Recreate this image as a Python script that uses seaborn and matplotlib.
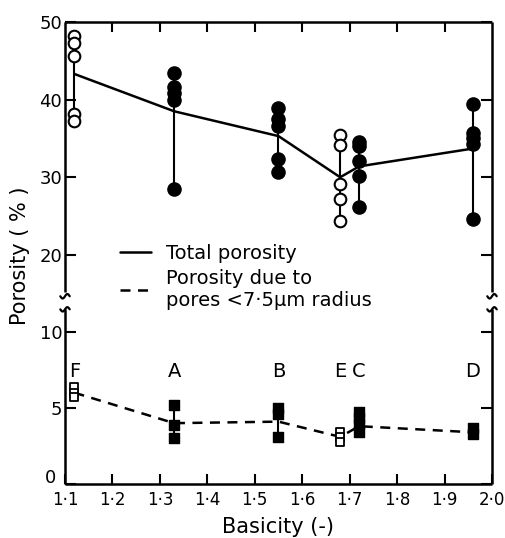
import numpy as np
import pandas as pd
import matplotlib
matplotlib.use("Agg")
import matplotlib.pyplot as plt
from matplotlib.lines import Line2D
import matplotlib.transforms as mtransforms
import seaborn as sns

# ---------------- data ----------------
samples = ["F", "A", "B", "E", "C", "D"]
basicity = [1.12, 1.33, 1.55, 1.68, 1.72, 1.96]
open_marker = [True, False, False, True, False, False]

total_points = [
    [48.2, 47.3, 45.6, 38.1, 37.2],
    [43.4, 41.6, 40.8, 39.9, 28.5],
    [38.9, 37.5, 36.6, 32.3, 30.7],
    [35.4, 34.2, 29.1, 27.2, 24.4],
    [34.6, 34.0, 32.1, 30.2, 26.2],
    [39.4, 35.7, 35.1, 34.3, 24.6],
]
total_line = [43.3, 38.5, 35.3, 30.0, 31.4, 33.7]

pore_points = [
    [6.35, 6.0, 5.7],
    [5.2, 3.9, 3.0],
    [5.0, 4.6, 3.1],
    [3.45, 3.1, 2.75],
    [4.75, 4.35, 3.95, 3.45],
    [3.7, 3.3],
]
pore_line = [6.0, 4.0, 4.1, 3.1, 3.8, 3.4]

x_ticks = [1.1, 1.2, 1.3, 1.4, 1.5, 1.6, 1.7, 1.8, 1.9, 2.0]
x_ticklabels = ["1·1", "1·2", "1·3", "1·4", "1·5", "1·6", "1·7", "1·8", "1·9", "2·0"]
top_yticks = [20, 30, 40, 50]
low_yticks = [0, 5, 10]

# ---------------- frames ----------------
rows_t, rows_p = [], []
for s, x, op, tp, pp in zip(samples, basicity, open_marker, total_points, pore_points):
    for v in tp:
        rows_t.append(dict(sample=s, basicity=x, value=v, open=op))
    for v in pp:
        rows_p.append(dict(sample=s, basicity=x, value=v, open=op))
df_t = pd.DataFrame(rows_t)
df_p = pd.DataFrame(rows_p)
line_df = pd.DataFrame(dict(basicity=basicity, total=total_line, pore=pore_line))

sns.set_style("white")
plt.rcParams["font.family"] = ["DejaVu Sans"]
plt.rcParams["xtick.direction"] = "in"
plt.rcParams["ytick.direction"] = "in"
for k in ("text.color", "axes.labelcolor", "xtick.color", "ytick.color"):
    plt.rcParams[k] = "black"

fig = plt.figure(figsize=(5.06, 5.38), dpi=100)
L, R = 65 / 506, 492 / 506
y_top = 1 - 22 / 538
y_brk = 1 - 303 / 538
y_bot = 1 - 484 / 538
ax_t = fig.add_axes([L, y_brk, R - L, y_top - y_brk])
ax_b = fig.add_axes([L, y_bot, R - L, y_brk - y_bot])

for ax in (ax_t, ax_b):
    ax.set_xlim(1.1, 2.0)
    for sp in ax.spines.values():
        sp.set_linewidth(1.8)
        sp.set_color("black")
    ax.set_facecolor("white")

ax_t.set_ylim(13.8, 50)
ax_b.set_ylim(0, 11.9)
ax_t.spines["bottom"].set_visible(False)
ax_b.spines["top"].set_visible(False)
# small gap in the side spines at the break
ax_t.spines["left"].set_bounds(15.2, 50)
ax_t.spines["right"].set_bounds(15.2, 50)
ax_b.spines["left"].set_bounds(0, 11.5)
ax_b.spines["right"].set_bounds(0, 11.5)
for ax in (ax_t, ax_b):
    for sp in ax.spines.values():
        sp.set_capstyle("butt")

# vertical range lines
for x, tp in zip(basicity, total_points):
    ax_t.plot([x, x], [min(tp), max(tp)], color="black", lw=1.5, zorder=2)
for x, pp in zip(basicity, pore_points):
    ax_b.plot([x, x], [min(pp), max(pp)], color="black", lw=1.5, zorder=2)

# lines
sns.lineplot(data=line_df, x="basicity", y="total", ax=ax_t, color="black",
             lw=1.8, zorder=3, legend=False)
sns.lineplot(data=line_df, x="basicity", y="pore", ax=ax_b, color="black",
             lw=1.8, zorder=3, legend=False)
ax_b.lines[-1].set_dashes([4, 3])

# markers
sns.scatterplot(data=df_t[df_t.open], x="basicity", y="value", ax=ax_t,
                marker="o", s=70, facecolor="white", edgecolor="black",
                linewidth=1.5, zorder=4, legend=False)
sns.scatterplot(data=df_t[~df_t.open], x="basicity", y="value", ax=ax_t,
                marker="o", s=90, color="black", edgecolor="black",
                linewidth=1, zorder=4, legend=False)
sns.scatterplot(data=df_p[df_p.open], x="basicity", y="value", ax=ax_b,
                marker="s", s=40, facecolor="white", edgecolor="black",
                linewidth=1.3, zorder=4, legend=False)
sns.scatterplot(data=df_p[~df_p.open], x="basicity", y="value", ax=ax_b,
                marker="s", s=55, color="black", edgecolor="black",
                linewidth=1, zorder=4, legend=False)

# sample labels
for s, x in zip(samples, basicity):
    ax_b.text(x, 7.4, s, ha="center", va="center", fontsize=14)

# ticks
ax_b.set_xticks(x_ticks)
ax_b.set_xticklabels(x_ticklabels, fontsize=12)
ax_t.set_xticks(x_ticks[1:-1])
ax_t.tick_params(axis="x", top=True, bottom=False, labelbottom=False,
                 length=7, width=1.5)
ax_b.tick_params(axis="x", bottom=True, top=False, length=7, width=1.5, pad=5)
ax_t.set_yticks(top_yticks)
ax_t.set_yticklabels([str(v) for v in top_yticks], fontsize=13)
ax_b.set_yticks(low_yticks)
ax_b.set_yticklabels([str(v) for v in low_yticks], fontsize=13)
for ax in (ax_t, ax_b):
    ax.tick_params(axis="y", left=True, right=True, length=8, width=1.5, pad=2)
# raise the "0" label a bit so it clears the x tick labels
zero_lbl = ax_b.get_yticklabels()[0]
zero_lbl.set_transform(zero_lbl.get_transform() +
                       mtransforms.ScaledTranslation(-6 / 100, 8 / 100, fig.dpi_scale_trans))
ax_t.set_xlabel("")
ax_t.set_ylabel("")
ax_b.set_ylabel("")
ax_b.set_xlabel("Basicity (-)", fontsize=15, labelpad=6)
fig.text(20 / 506, 1 - 256 / 538, "Porosity ( % )", rotation=90,
         ha="center", va="center", fontsize=15)

# break marks
t = np.linspace(-1, 1, 20)
for xa in (0.0, 1.0):
    ax_t.plot(xa + 0.011 * t, 0.024 + 0.008 * np.sin(np.pi * t), color="black",
              lw=1.6, transform=ax_t.transAxes, clip_on=False)
    ax_b.plot(xa + 0.011 * t, 0.965 + 0.012 * np.sin(np.pi * t), color="black",
              lw=1.6, transform=ax_b.transAxes, clip_on=False)

# legend
handles = [Line2D([], [], color="black", lw=1.8),
           Line2D([], [], color="black", lw=1.8, dashes=[4, 3])]
fig.legend(handles, ["Total porosity", "Porosity due to\npores <7·5μm radius"],
           loc="upper left", bbox_to_anchor=(110 / 506, 1 - 234 / 538),
           frameon=False, fontsize=14, handlelength=1.6, handletextpad=0.8,
           labelspacing=0.3, borderpad=0)

fig.savefig("out.png", dpi=100)
